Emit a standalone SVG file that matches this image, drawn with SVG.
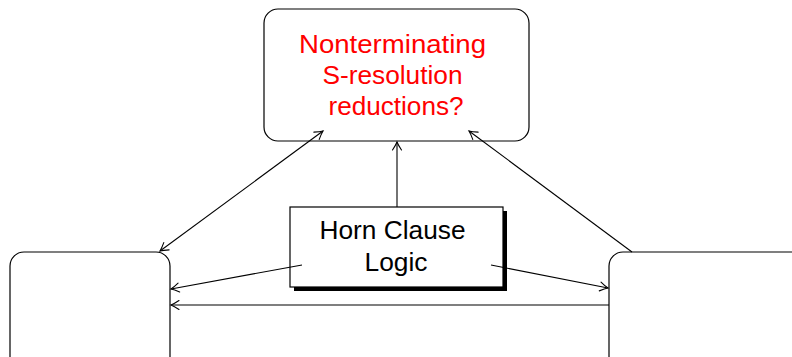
<svg xmlns="http://www.w3.org/2000/svg" width="792" height="357" viewBox="0 0 792 357">
  <style>
    .box { fill: #ffffff; stroke: #000000; stroke-width: 1.2; }
    .edge { fill: none; stroke: #000000; stroke-width: 1.1; }
    .lbl { font-family: "Liberation Sans", "DejaVu Sans", sans-serif; font-size: 25px; text-anchor: middle; }
  </style>
  <defs>
    <marker id="tip" viewBox="-10 -6 12 12" refX="0" refY="0" markerWidth="12" markerHeight="12" markerUnits="userSpaceOnUse" orient="auto-start-reverse">
      <path d="M -8,-4.5 Q -3,-1.2 0,0 Q -3,1.2 -8,4.5" fill="none" stroke="#000000" stroke-width="1.1" stroke-linecap="round"/>
    </marker>
  </defs>

  <g id="question">
    <rect class="box" x="264" y="9" width="265" height="132" rx="14" ry="14"/>
    <text class="lbl" fill="#ff0000">
      <tspan x="396" y="53" textLength="187" lengthAdjust="spacingAndGlyphs">Nonterminating</tspan>
      <tspan x="396" y="84" textLength="140" lengthAdjust="spacingAndGlyphs">S-resolution</tspan>
      <tspan x="396" y="115" textLength="135" lengthAdjust="spacingAndGlyphs">reductions?</tspan>
    </text>
  </g>

  <g id="horn">
    <rect x="294" y="211" width="213" height="80" fill="#000000"/>
    <rect class="box" x="290" y="207" width="213" height="80"/>
    <text class="lbl" fill="#000000" font-size="26">
      <tspan x="396" y="239" textLength="146" lengthAdjust="spacingAndGlyphs">Horn Clause</tspan>
      <tspan x="396" y="271" textLength="63" lengthAdjust="spacingAndGlyphs">Logic</tspan>
    </text>
  </g>

  <g id="left">
    <rect class="box" x="10" y="252" width="160" height="130" rx="14" ry="14"/>
  </g>

  <g id="right">
    <rect class="box" x="609" y="252" width="200" height="130" rx="14" ry="14"/>
  </g>

  <!-- connectors sit on top so their tips reach into the boxes -->
  <g id="connectors">
    <line class="edge" x1="160" y1="251" x2="323" y2="131" marker-start="url(#tip)" marker-end="url(#tip)"/>
    <line class="edge" x1="632" y1="252" x2="469" y2="131" marker-end="url(#tip)"/>
    <line class="edge" x1="397" y1="207" x2="397" y2="142" marker-end="url(#tip)"/>
    <line class="edge" x1="302" y1="265" x2="171" y2="289" marker-end="url(#tip)"/>
    <line class="edge" x1="491" y1="265" x2="608" y2="288" marker-end="url(#tip)"/>
    <line class="edge" x1="609" y1="305" x2="171" y2="305" marker-end="url(#tip)"/>
  </g>
</svg>
